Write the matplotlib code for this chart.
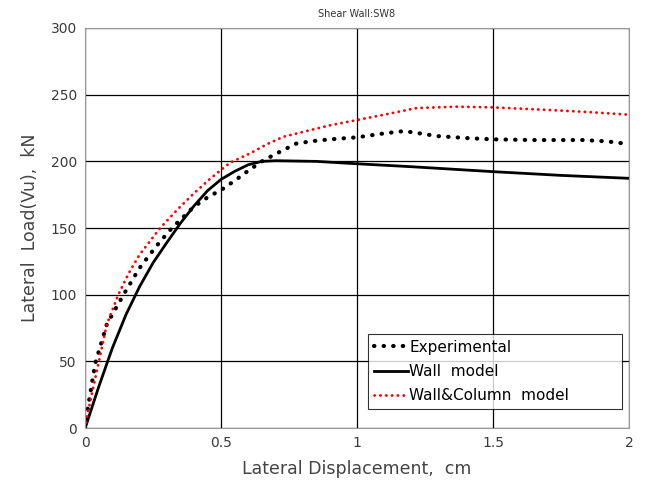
import matplotlib.pyplot as plt

# Shear wall SW8 - load vs displacement
exp_x = [0, 0.01, 0.037, 0.08, 0.141, 0.2, 0.26, 0.319, 0.4, 0.45, 0.509, 0.56, 0.6, 0.65, 0.705, 0.778, 0.85, 0.9, 0.999, 1.1, 1.173, 1.23, 1.293, 1.4, 1.501, 1.65, 1.83, 1.92, 2.0]
exp_y = [0, 15, 48.5, 78, 100, 120, 136, 150, 166, 173, 179.7, 187, 193, 200, 206, 213.5, 215.5, 216.5, 218, 221, 222.7, 221, 219, 217.5, 216.5, 216, 216, 215, 213]

wall_x = [0, 0.05, 0.1, 0.15, 0.2, 0.25, 0.3, 0.35, 0.4, 0.45, 0.5, 0.55, 0.6, 0.65, 0.7, 0.85, 0.974, 1.2, 1.5, 1.75, 2.0]
wall_y = [0, 31, 60, 85, 106, 124, 139, 153.5, 166.5, 178, 186.5, 192.5, 197.5, 200, 200.5, 200, 198.5, 196, 192.3, 189.5, 187.3]

wc_x = [0, 0.004, 0.049, 0.08, 0.122, 0.16, 0.2, 0.276, 0.34, 0.4, 0.46, 0.533, 0.607, 0.67, 0.73, 0.8, 0.9, 1.0, 1.1, 1.22, 1.366, 1.5, 1.71, 1.85, 2.0]
wc_y = [0, 6, 48.5, 78, 100, 116, 130, 150, 164, 176, 187, 199, 206, 213, 218.5, 222, 227, 231, 235, 240, 241, 240.5, 238.5, 237, 235]

fig = plt.figure(figsize=(6.45, 4.91), dpi=100)
ax = fig.add_axes([0.132, 0.128, 0.843, 0.815])

ax.plot(exp_x, exp_y, color='black', linestyle=(0, (0.1, 2.2)), linewidth=3, dash_capstyle='round', label='Experimental')
ax.plot(wall_x, wall_y, color='black', linewidth=2, label='Wall  model')
ax.plot(wc_x, wc_y, color='red', linestyle=(0, (0.1, 2.0)), linewidth=2, dash_capstyle='round', label='Wall&Column  model')

ax.set_xlim(0, 2)
ax.set_ylim(0, 300)
ax.set_xticks([0, 0.5, 1, 1.5, 2])
ax.set_xticklabels(['0', '0.5', '1', '1.5', '2'])
ax.set_yticks(range(0, 301, 50))
ax.grid(True, color='black', linewidth=0.9)
ax.tick_params(labelsize=10, colors='#3a3a3a', length=0, pad=6)
for s in ax.spines.values():
    s.set_color('#999999')

ax.set_title('Shear Wall:SW8', fontsize=7, color='#333333', pad=8)
ax.set_xlabel('Lateral Displacement,  cm', fontsize=12.5, color='#444444', labelpad=7)
ax.set_ylabel('Lateral  Load(Vu),  kN', fontsize=12.5, color='#444444', labelpad=8)

leg = ax.legend(loc='lower left', bbox_to_anchor=(0.52, 0.0475, 0.467, 0.25), mode='expand',
                fontsize=11, frameon=True, fancybox=False, edgecolor='black',
                handlelength=2.2, handletextpad=0.1, borderaxespad=0, labelspacing=0.6)
leg.get_frame().set_linewidth(0.8)

fig.savefig('out.png', dpi=100)
